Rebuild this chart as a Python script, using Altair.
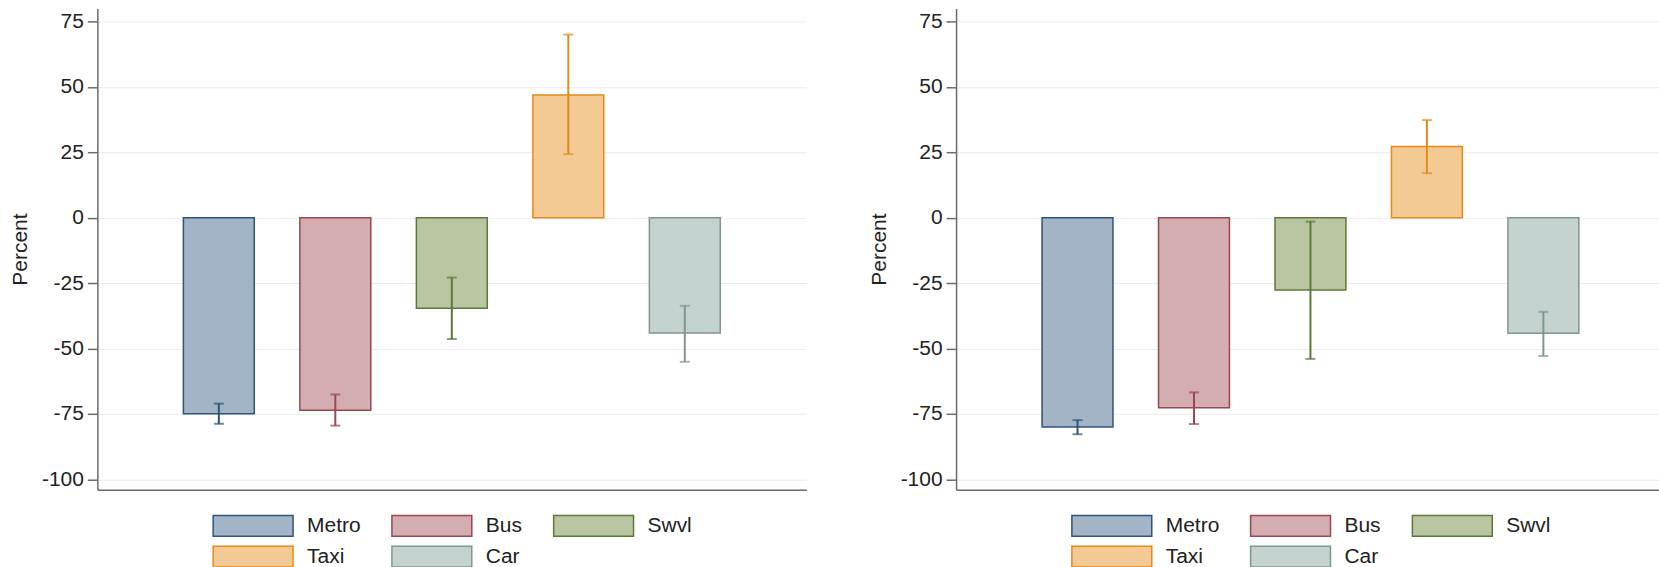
import altair as alt
import pandas as pd

# Travel modes, their positions on the category axis and bar styling
modes = ["Metro", "Bus", "Swvl", "Taxi", "Car"]
positions = [1, 2, 3, 4, 5]
fill_colors = ["#a3b4c6", "#d4adb1", "#b9c6a1", "#f3c994", "#c4d3cf"]
line_colors = ["#2f5479", "#9c4650", "#5b7a37", "#e58a1a", "#7d978f"]

# Left panel: percent change with confidence bounds
left_change = [-75.0, -73.6, -34.6, 46.9, -44.1]
left_low = [-78.8, -79.5, -46.4, 24.3, -55.1]
left_high = [-71.1, -67.6, -22.9, 70.0, -33.7]

# Right panel: percent change with confidence bounds
right_change = [-80.0, -72.7, -27.7, 27.2, -44.2]
right_low = [-82.8, -78.9, -54.0, 17.0, -52.9]
right_high = [-77.4, -66.8, -1.5, 37.3, -36.0]

Y_TICKS = [-100, -75, -50, -25, 0, 25, 50, 75]
FONT = "Liberation Sans"


def panel(change, low, high, width, x_max):
    df = pd.DataFrame({
        "mode": modes,
        "pos": positions,
        "change": change,
        "low": low,
        "high": high,
    })
    x = alt.X("pos:Q", scale=alt.Scale(domain=[0, x_max], nice=False, zero=False),
              axis=alt.Axis(title=None, labels=False, ticks=False, grid=False,
                            domain=True, domainColor="#6b6b6b", domainWidth=1.5))
    y_scale = alt.Scale(domain=[-104, 80], nice=False, zero=False)
    y_axis = alt.Axis(title="Percent", values=Y_TICKS, grid=True, gridColor="#ebebeb",
                      gridWidth=1, domainColor="#6b6b6b", domainWidth=1.5,
                      tickColor="#6b6b6b", tickWidth=1.5, tickSize=10,
                      labelExpr="'' + datum.value",
                      labelFont=FONT, labelFontSize=21, labelColor="#222222",
                      labelPadding=4, titleFont=FONT, titleFontSize=21,
                      titleFontWeight="normal", titleColor="#222222", titlePadding=11)
    # wide flat swatches: small nominal size keeps the rows compact,
    # the path itself spans 80 x 21 px
    legend = alt.Legend(title=None, orient="none", legendX=115, legendY=507,
                        columns=3, direction="horizontal",
                        symbolType="M-4,-1.04L4,-1.04L4,1.04L-4,1.04Z",
                        symbolSize=400, symbolStrokeWidth=1.5, symbolOpacity=1,
                        symbolOffset=30,
                        labelFont=FONT, labelFontSize=21, labelColor="#222222",
                        labelOffset=43, columnPadding=28, rowPadding=3, padding=0)
    fill = alt.Fill("mode:N", sort=modes,
                    scale=alt.Scale(domain=modes, range=fill_colors), legend=legend)
    stroke = alt.Stroke("mode:N", sort=modes,
                        scale=alt.Scale(domain=modes, range=line_colors), legend=legend)

    bars = alt.Chart(df).mark_bar(size=71, strokeWidth=1.5).encode(
        x=x,
        y=alt.Y("change:Q", scale=y_scale, axis=y_axis),
        y2=alt.datum(0),
        fill=fill,
        stroke=stroke,
    )
    whiskers = alt.Chart(df).mark_rule(strokeWidth=2).encode(
        x=x,
        y=alt.Y("low:Q", scale=y_scale),
        y2="high:Q",
        stroke=stroke,
    )
    cap_color = alt.Color("mode:N", sort=modes,
                          scale=alt.Scale(domain=modes, range=line_colors), legend=None)
    caps_low = alt.Chart(df).mark_tick(orient="horizontal", size=10, thickness=2).encode(
        x=x, y=alt.Y("low:Q", scale=y_scale), color=cap_color,
    )
    caps_high = alt.Chart(df).mark_tick(orient="horizontal", size=10, thickness=2).encode(
        x=x, y=alt.Y("high:Q", scale=y_scale), color=cap_color,
    )
    return alt.layer(bars, whiskers, caps_low, caps_high).properties(
        width=width, height=482
    )


left = panel(left_change, left_low, left_high, 710, 6)
right = panel(right_change, right_low, right_high, 704, 5.95)

chart = alt.hconcat(left, right, spacing=61).resolve_scale(
    fill="independent", stroke="independent", color="independent"
).properties(
    padding={"left": 8.5, "top": 8, "right": 0, "bottom": 0},
    background="white",
).configure_view(stroke=None)

chart.save("out.html", embed_options={"renderer": "svg", "actions": False})
